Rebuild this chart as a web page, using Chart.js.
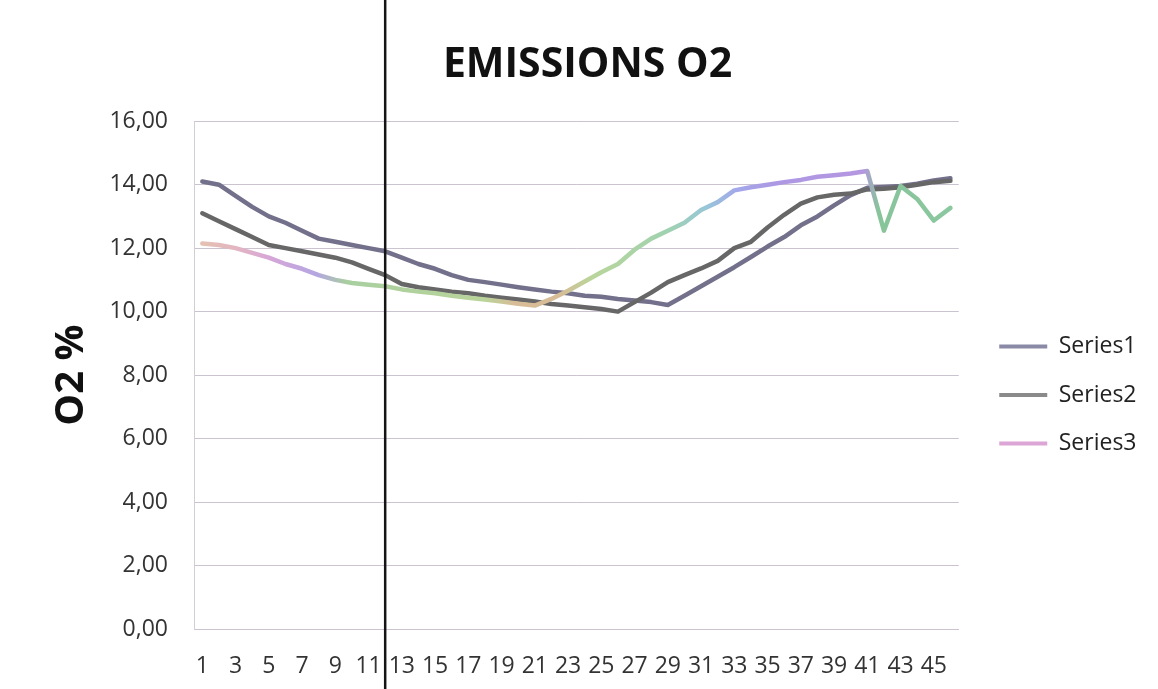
<!DOCTYPE html>
<html lang="en">
<head>
  <meta charset="UTF-8">
  <title>Emissions O2</title>
  <script src="https://cdn.jsdelivr.net/npm/chart.js"></script>
  <style>
    html, body { margin: 0; padding: 0; background: #fff; }
    #wrap { width: 1158px; height: 689px; }
  </style>
</head>
<body>
<div id="wrap"><canvas id="o2Chart"></canvas></div>

<script>
  // sample numbers along the x axis
  const labels = ["1", "2", "3", "4", "5", "6", "7", "8", "9", "10",
    "11", "12", "13", "14", "15", "16", "17", "18", "19", "20",
    "21", "22", "23", "24", "25", "26", "27", "28", "29", "30",
    "31", "32", "33", "34", "35", "36", "37", "38", "39", "40",
    "41", "42", "43", "44", "45", "46"];

  const seriesNames = ["Series1", "Series2", "Series3"];

  // O2 % values
  const series1 = [14.10, 14.00, 13.65, 13.30, 13.00, 12.80, 12.55, 12.30, 12.20, 12.10,
    12.00, 11.90, 11.70, 11.50, 11.35, 11.15, 11.00, 10.93, 10.85, 10.77,
    10.70, 10.63, 10.58, 10.50, 10.47, 10.40, 10.35, 10.30, 10.21, 10.50,
    10.80, 11.10, 11.40, 11.72, 12.05, 12.35, 12.72, 13.00, 13.35, 13.67,
    13.90, 13.93, 13.96, 14.03, 14.13, 14.20];

  const series2 = [13.10, 12.85, 12.60, 12.35, 12.10, 12.00, 11.90, 11.80, 11.70, 11.55,
    11.35, 11.15, 10.87, 10.77, 10.70, 10.63, 10.58, 10.50, 10.44, 10.38,
    10.32, 10.24, 10.19, 10.14, 10.08, 10.00, 10.30, 10.60, 10.93, 11.15,
    11.36, 11.60, 12.00, 12.20, 12.65, 13.05, 13.40, 13.60, 13.68, 13.72,
    13.85, 13.87, 13.92, 14.00, 14.08, 14.12];

  const series3 = [12.15, 12.10, 12.00, 11.85, 11.70, 11.50, 11.35, 11.15, 11.00, 10.90,
    10.85, 10.80, 10.70, 10.63, 10.58, 10.50, 10.44, 10.38, 10.32, 10.25,
    10.19, 10.40, 10.66, 10.95, 11.24, 11.50, 11.95, 12.30, 12.55, 12.80,
    13.20, 13.45, 13.82, 13.92, 14.00, 14.08, 14.15, 14.25, 14.30, 14.35,
    14.43, 12.55, 13.96, 13.55, 12.87, 13.27];

  const markerIndex = 11; // black vertical rule at sample 12

  const lineColors = ["#72708a", "#676768", "#c9a3d8"];
  const legendColors = ["#8a89a6", "#8a8a8a", "#dba6d6"];
  // scan tints along series 3 (fraction of plot width, colour)
  const series3Tints = [
    [0.00, "#e6c3ae"], [0.06, "#e2b4c4"], [0.10, "#d6a6d8"], [0.16, "#b4a6e2"],
    [0.20, "#a9cfa0"], [0.38, "#b9d49a"], [0.42, "#d8bc98"], [0.48, "#d6bd96"],
    [0.52, "#b9d69a"], [0.62, "#9fd2b0"], [0.67, "#98c6d8"], [0.71, "#a3a8ea"],
    [0.76, "#ad98e4"], [0.875, "#b596e0"], [0.895, "#88c49a"], [1.00, "#8cc8a0"]
  ];

  const font = "'Open Sans', 'Noto Sans', sans-serif";

  function series3Stroke(context) {
    const chart = context.chart;
    const area = chart.chartArea;
    if (!area) return lineColors[2];
    const g = chart.ctx.createLinearGradient(area.left, 0, area.right, 0);
    series3Tints.forEach(([pos, col]) => g.addColorStop(pos, col));
    return g;
  }

  const markerLine = {
    id: "markerLine",
    afterDraw(chart) {
      const x = chart.scales.x.getPixelForValue(markerIndex);
      const ctx = chart.ctx;
      ctx.save();
      ctx.strokeStyle = "#151515";
      ctx.lineWidth = 2.5;
      ctx.beginPath();
      ctx.moveTo(x, 0);
      ctx.lineTo(x, chart.height);
      ctx.stroke();
      ctx.restore();
    }
  };

  const lineStyle = {
    borderWidth: 4.5,
    pointRadius: 0,
    tension: 0,
    fill: false,
    borderJoinStyle: "round",
    borderCapStyle: "round"
  };

  new Chart(document.getElementById("o2Chart"), {
    type: "line",
    data: {
      labels: labels,
      datasets: [
        { label: seriesNames[0], data: series1, borderColor: lineColors[0], order: 2, ...lineStyle },
        { label: seriesNames[1], data: series2, borderColor: lineColors[1], order: 1, ...lineStyle },
        { label: seriesNames[2], data: series3, borderColor: series3Stroke, order: 0, ...lineStyle }
      ]
    },
    options: {
      responsive: true,
      maintainAspectRatio: false,
      animation: false,
      layout: { padding: { left: 28.5, right: 11.5, top: 0, bottom: 0 } },
      scales: {
        x: {
          offset: true,
          grid: { display: false },
          border: { display: true, color: "#cbc3cf", width: 1 },
          ticks: {
            autoSkip: false,
            maxRotation: 0,
            padding: 16,
            color: "#333",
            font: { family: font, size: 23 },
            callback: function (value, index) {
              return index % 2 === 0 ? this.getLabelForValue(value) : "";
            }
          },
          afterFit(scale) { scale.height = 60; }
        },
        y: {
          min: 0,
          max: 16,
          ticks: {
            stepSize: 2,
            padding: 26,
            color: "#333",
            font: { family: font, size: 23 },
            callback: (v) => v.toFixed(2).replace(".", ",")
          },
          grid: { color: "#cbc3d0", lineWidth: 1, drawTicks: false },
          border: { display: true, color: "#cfcfd8" },
          title: {
            display: true,
            text: "O2 %",
            color: "#111",
            font: { family: font, size: 40, weight: "bold" },
            padding: { top: 19.5, bottom: 0 }
          },
          afterFit(scale) { scale.width = 165.5; }
        },
        gap: {
          type: "linear",
          axis: "y",
          position: "right",
          grid: { display: false },
          border: { display: false },
          ticks: { display: false },
          afterFit(scale) { scale.width = 15; }
        }
      },
      plugins: {
        title: {
          display: true,
          text: "EMISSIONS O2",
          color: "#111",
          font: { family: font, size: 41, weight: "bold" },
          padding: { top: 41, bottom: 31 }
        },
        legend: {
          position: "right",
          fullSize: false,
          align: "center",
          title: { display: true, text: "", font: { size: 10, lineHeight: 1 }, padding: { top: 15, bottom: 15 } },
          labels: {
            boxWidth: 48,
            boxHeight: 4,
            padding: 25.5,
            color: "#222",
            font: { family: font, size: 23 },
            sort: (a, b) => a.datasetIndex - b.datasetIndex,
            generateLabels(chart) {
              const items = Chart.defaults.plugins.legend.labels.generateLabels(chart);
              items.forEach((item) => {
                item.fillStyle = legendColors[item.datasetIndex];
                item.strokeStyle = legendColors[item.datasetIndex];
                item.lineWidth = 0;
              });
              return items;
            }
          }
        },
        tooltip: { enabled: false }
      }
    },
    plugins: [markerLine]
  });
</script>
</body>
</html>
